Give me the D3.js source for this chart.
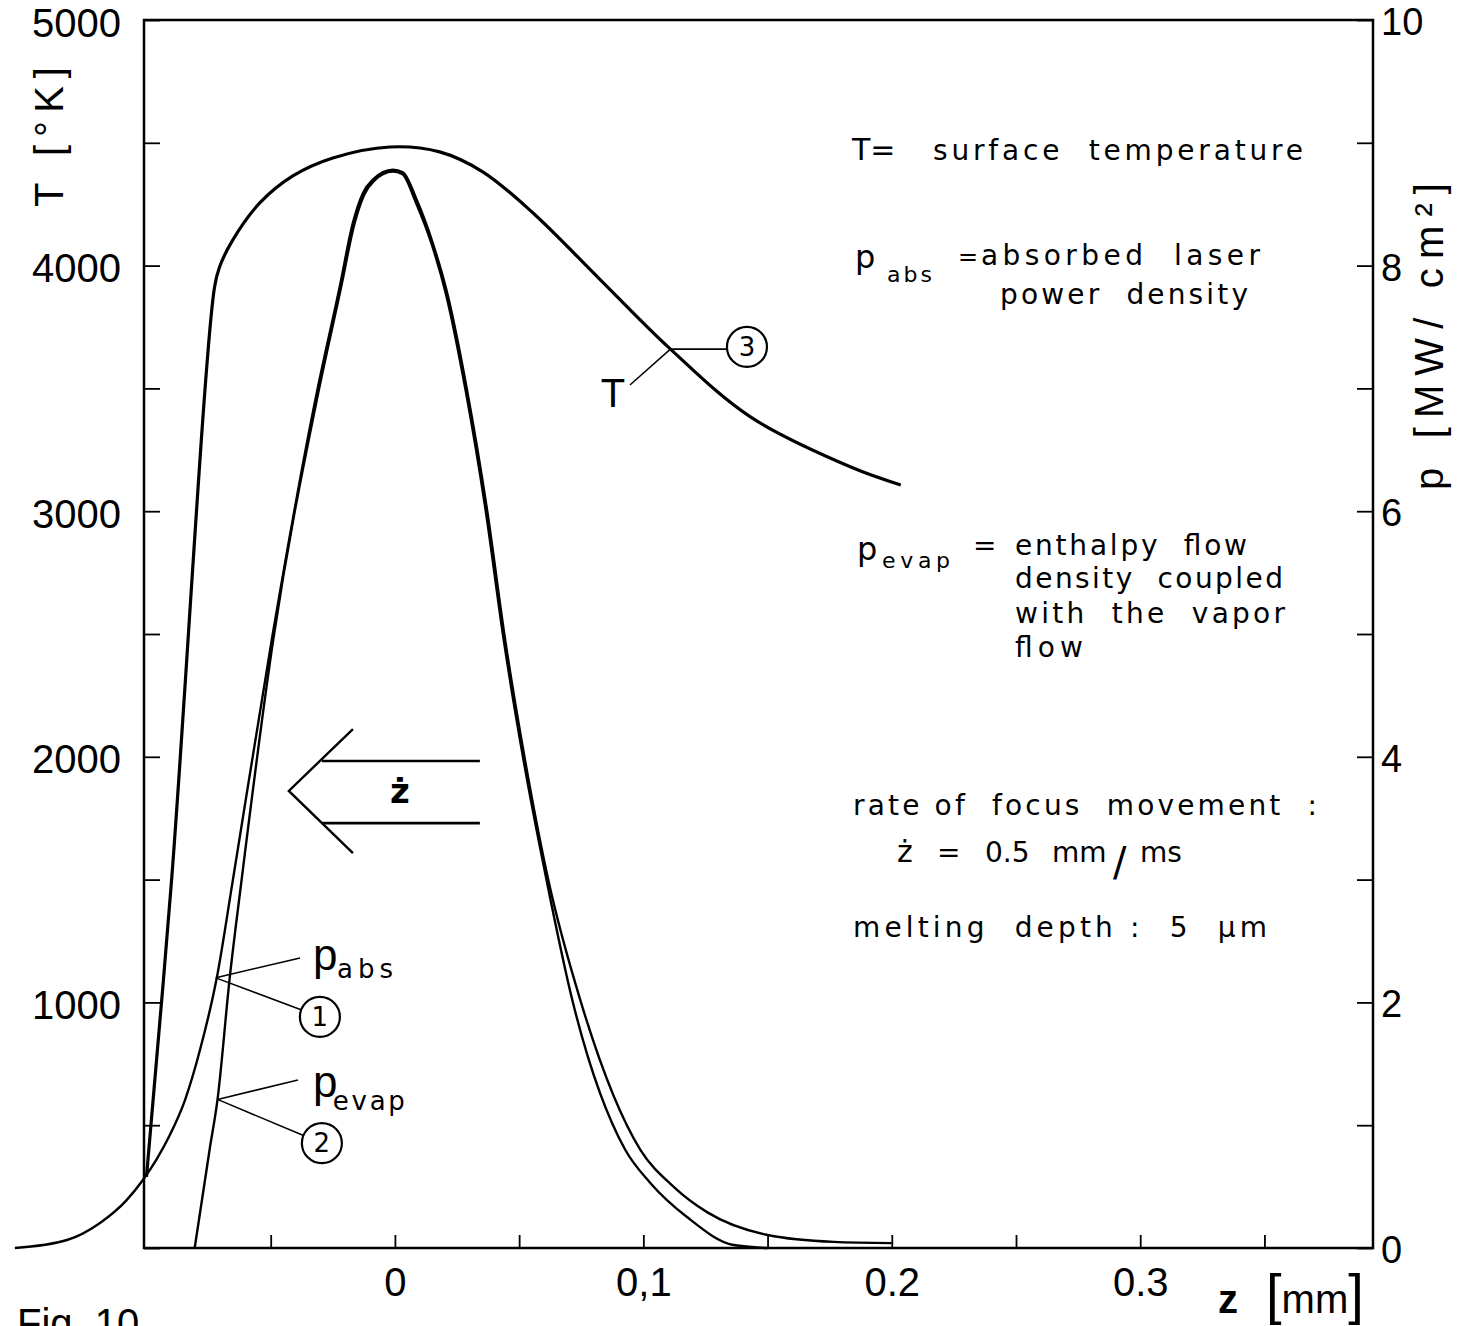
<!DOCTYPE html>
<html>
<head>
<meta charset="utf-8">
<script src="https://cdn.jsdelivr.net/npm/d3@7"></script>
<style>
  body { margin: 0; background: #fff; }
  svg { display: block; }
  text { font-family: 'Liberation Sans', Arial, sans-serif; fill: #000; white-space: pre; }
  text.note { font-family: 'DejaVu Sans', sans-serif; }
</style>
</head>
<body>
<div id="chart"></div>
<script>
// surface temperature T [K] against z [mm]
const tempZ = [-0.1, -0.0899, -0.0726, -0.0706, -0.0653, -0.0544, -0.0411, -0.025, -0.002, 0.018, 0.0355, 0.0556, 0.0827, 0.1109, 0.1431, 0.1835, 0.2036];
const tempT = [290, 1498, 3913, 3994, 4104, 4255, 4365, 4438, 4483, 4463, 4381, 4214, 3942, 3660, 3384, 3180, 3107];

// absorbed laser power density p_abs [MW/cm2]
const absZ = [-0.153, -0.132, -0.119, -0.108, -0.1016, -0.096, -0.0906, -0.0845, -0.0785, -0.0717, -0.0652, -0.0496, -0.0315, -0.0222, -0.0169, -0.0129, -0.0089, -0.0008, 0.0032, 0.0089, 0.0153, 0.021, 0.029, 0.0371, 0.0444, 0.0524, 0.0617, 0.0746, 0.0988, 0.1121, 0.1258, 0.15, 0.1766, 0.2];
const absP = [0, 0.065, 0.2, 0.39, 0.55, 0.72, 0.92, 1.205, 1.61, 2.2, 3.0, 4.95, 6.96, 7.83, 8.35, 8.59, 8.7, 8.78, 8.76, 8.53, 8.18, 7.78, 6.99, 6.01, 4.95, 3.97, 3.0, 2.02, 0.8, 0.5, 0.29, 0.106, 0.05, 0.04];

// enthalpy flow density p_evap [MW/cm2]
const evapZ = [-0.0806, -0.0746, -0.0714, -0.0665, -0.0617, -0.049, -0.0309, -0.0216, -0.0163, -0.0123, -0.0084, -0.0008, 0.003, 0.0083, 0.0147, 0.0204, 0.0284, 0.0365, 0.0438, 0.0518, 0.061, 0.0714, 0.0927, 0.1028, 0.1177, 0.1363, 0.15];
const evapP = [0, 0.8, 1.21, 2.2, 3.0, 4.95, 6.96, 7.83, 8.34, 8.58, 8.69, 8.765, 8.745, 8.52, 8.18, 7.78, 6.99, 6.01, 4.95, 3.97, 3.0, 2.02, 0.8, 0.53, 0.25, 0.024, 0];

const zTicks = [-0.05, 0, 0.05, 0.1, 0.15, 0.2, 0.25, 0.3, 0.35];
const zLabels = ['', '0', '', '0,1', '', '0.2', '', '0.3', ''];
const tTicks = [0, 500, 1000, 1500, 2000, 2500, 3000, 3500, 4000, 4500, 5000];
const tLabels = ['', '', '1000', '', '2000', '', '3000', '', '4000', '', '5000'];
const pTicks = [0, 1, 2, 3, 4, 5, 6, 7, 8, 9, 10];
const pLabels = ['0', '', '2', '', '4', '', '6', '', '8', '', '10'];

const W = 1471, H = 1326;
const box = { left: 144, right: 1373, top: 20, bottom: 1248 };

const svg = d3.select('#chart')
  .append('svg')
  .attr('width', W)
  .attr('height', H);

const x = d3.scaleLinear().domain([-0.101, 0.3937]).range([box.left, box.right]);
const yT = d3.scaleLinear().domain([0, 5000]).range([box.bottom, box.top]);
const yP = d3.scaleLinear().domain([0, 10]).range([box.bottom, box.top]);

// axes (ticks point inwards)
const styleAxis = (g, size, dy) => {
  g.select('.domain').remove();
  g.selectAll('.tick line').attr('stroke', '#000').attr('stroke-width', 1.8);
  g.selectAll('.tick text').attr('font-size', size).attr('font-family', "'Liberation Sans', Arial, sans-serif").attr('fill', '#000');
  if (dy) g.selectAll('.tick text').attr('dy', dy);
};

svg.append('g')
  .attr('transform', `translate(0,${box.bottom})`)
  .call(d3.axisBottom(x).tickValues(zTicks).tickSize(-13).tickPadding(20)
    .tickFormat((d, i) => zLabels[i]))
  .call(g => styleAxis(g, 40));

svg.append('g')
  .attr('transform', `translate(${box.left},0)`)
  .call(d3.axisLeft(yT).tickValues(tTicks).tickSize(-16).tickPadding(23)
    .tickFormat((d, i) => tLabels[i]))
  .call(g => styleAxis(g, 40, '0.4em'));

svg.append('g')
  .attr('transform', `translate(${box.right},0)`)
  .call(d3.axisRight(yP).tickValues(pTicks).tickSize(-16).tickPadding(8)
    .tickFormat((d, i) => pLabels[i]))
  .call(g => styleAxis(g, 38, '0.38em'));

svg.append('rect')
  .attr('x', box.left).attr('y', box.top)
  .attr('width', box.right - box.left).attr('height', box.bottom - box.top)
  .attr('fill', 'none').attr('stroke', '#000').attr('stroke-width', 2.5);

// curves
const lineT = d3.line().x(d => x(d[0])).y(d => yT(d[1])).curve(d3.curveCatmullRom.alpha(0.5));
const lineP = d3.line().x(d => x(d[0])).y(d => yP(d[1])).curve(d3.curveMonotoneX);

svg.append('path').attr('d', lineT(d3.zip(tempZ, tempT)))
  .attr('fill', 'none').attr('stroke', '#000').attr('stroke-width', 3.2);
svg.append('path').attr('d', lineP(d3.zip(absZ, absP)))
  .attr('fill', 'none').attr('stroke', '#000').attr('stroke-width', 2.4);
svg.append('path').attr('d', lineP(d3.zip(evapZ, evapP)))
  .attr('fill', 'none').attr('stroke', '#000').attr('stroke-width', 2.4);

// callouts, in data units (z, T)
const seg = (a, b, w) => svg.append('line')
  .attr('x1', x(a[0])).attr('y1', yT(a[1]))
  .attr('x2', x(b[0])).attr('y2', yT(b[1]))
  .attr('stroke', '#000').attr('stroke-width', w);
const ring = (c, label) => {
  svg.append('circle').attr('cx', x(c[0])).attr('cy', yT(c[1])).attr('r', 20)
    .attr('fill', 'none').attr('stroke', '#000').attr('stroke-width', 2.2);
  svg.append('text').attr('class', 'note').attr('x', x(c[0])).attr('y', yT(c[1])).attr('dy', '0.36em')
    .attr('text-anchor', 'middle').attr('font-size', 26).text(label);
};

// T -> 3
seg([0.1109, 3660], [0.0946, 3514], 1.5);
seg([0.1109, 3660], [0.1337, 3660], 1.8);
ring([0.1417, 3669], '3');
svg.append('text').attr('x', x(0.0878)).attr('y', yT(3424))
  .attr('text-anchor', 'middle').attr('font-size', 40).text('T');

// p_abs -> 1
seg([-0.0721, 1100], [-0.0382, 1181], 1.5);
seg([-0.0721, 1100], [-0.0378, 970], 1.5);
ring([-0.0302, 941], '1');
svg.append('text').attr('x', x(-0.033)).attr('y', yT(1132)).attr('font-size', 44).text('p');
svg.append('text').attr('class', 'note').attr('x', x(-0.0233)).attr('y', yT(1100)).attr('font-size', 26)
  .attr('textLength', 56).attr('lengthAdjust', 'spacing').text('abs');

// p_evap -> 2
seg([-0.0714, 605], [-0.039, 684], 1.5);
seg([-0.0714, 605], [-0.0368, 458], 1.5);
ring([-0.0294, 427], '2');
svg.append('text').attr('x', x(-0.033)).attr('y', yT(616)).attr('font-size', 44).text('p');
svg.append('text').attr('class', 'note').attr('x', x(-0.025)).attr('y', yT(562)).attr('font-size', 26)
  .attr('textLength', 72).attr('lengthAdjust', 'spacing').text('evap');

// arrow for the focus movement
seg([-0.0294, 1983], [0.0342, 1983], 2.6);
seg([-0.0294, 1730], [0.0342, 1730], 2.6);
svg.append('path')
  .attr('d', d3.line()([[x(-0.0169), yT(2113)], [x(-0.0427), yT(1861)], [x(-0.0169), yT(1608)]]))
  .attr('fill', 'none').attr('stroke', '#000').attr('stroke-width', 2.4);
svg.append('text').attr('class', 'note').attr('x', x(0.002)).attr('y', yT(1812))
  .attr('text-anchor', 'middle').attr('font-size', 34).attr('font-weight', 'bold').text('ż');

// legend text block
const notes = [
  ['T=', 852, 160, 30, 0],
  ['surface  temperature', 933, 160, 28, 370],
  ['p', 855, 268, 32, 0],
  ['abs', 887, 282, 22, 45],
  ['=', 958, 265, 24, 0],
  ['absorbed  laser', 981, 265, 28, 279],
  ['power  density', 1000, 304, 28, 248],
  ['p', 857, 560, 32, 0],
  ['evap', 882, 568, 22, 68],
  ['=', 973, 555, 28, 0],
  ['enthalpy  flow', 1015, 555, 28, 232],
  ['density  coupled', 1015, 588, 28, 268],
  ['with  the  vapor', 1015, 623, 28, 270],
  ['flow', 1015, 657, 28, 68],
  ['rate of  focus  movement  :', 853, 815, 28, 464],
  ['ż', 897, 862, 30, 0],
  ['=', 937, 862, 28, 0],
  ['0.5', 985, 862, 28, 0],
  ['mm', 1052, 862, 28, 0],
  ['/', 1113, 876, 40, 0],
  ['ms', 1140, 862, 28, 0],
  ['melting  depth :  5  µm', 853, 937, 28, 414]
];
notes.forEach(([t, tx, ty, fs, len]) => {
  const el = svg.append('text').attr('class', 'note').attr('x', tx).attr('y', ty).attr('font-size', fs).text(t);
  if (len) el.attr('textLength', len).attr('lengthAdjust', 'spacing');
});

// axis titles
svg.append('text')
  .attr('transform', 'translate(63,207) rotate(-90)')
  .attr('font-size', 40).attr('textLength', 140).attr('lengthAdjust', 'spacing')
  .text('T [°K]');
svg.append('text')
  .attr('transform', 'translate(1443,490) rotate(-90)')
  .attr('font-size', 40).attr('textLength', 307).attr('lengthAdjust', 'spacing')
  .text('p [MW/ cm²]');

svg.append('text').attr('x', 1218).attr('y', 1313).attr('font-size', 40)
  .attr('font-weight', 'bold').text('z');
const mm = svg.append('text').attr('x', 1266).attr('y', 1313).attr('font-size', 40);
mm.append('tspan').attr('font-size', 56).text('[');
mm.append('tspan').text('mm');
mm.append('tspan').attr('font-size', 56).text(']');

svg.append('text').attr('x', 17).attr('y', 1337).attr('font-size', 40).text('Fig. 10');
</script>
</body>
</html>
